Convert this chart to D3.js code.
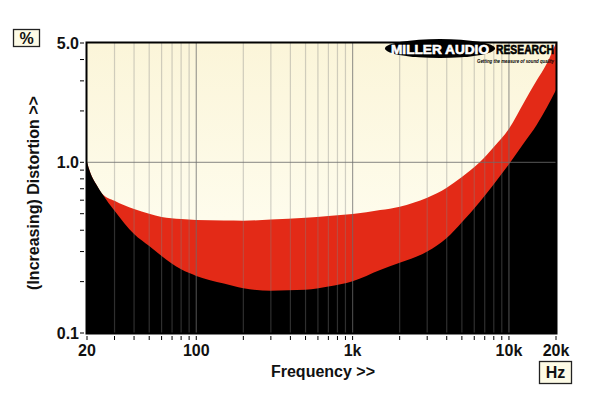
<!DOCTYPE html>
<html>
<head>
<meta charset="utf-8">
<script src="https://cdn.jsdelivr.net/npm/d3@7"></script>
<style>
  html, body { margin: 0; padding: 0; background: #fff; }
  svg { display: block; font-family: "Liberation Sans", Arial, sans-serif; }
</style>
</head>
<body>
<script>
// frequency grid (Hz) and the two boundaries (% distortion)
const freqs = [20, 21, 23, 25, 30, 40, 50, 60, 80, 100, 150, 200, 300, 500, 700,
  1000, 1500, 2000, 3000, 4000, 5000, 6500, 8000, 10000, 12500, 15000, 17500, 20000];
const upperDistortion = [1.0, 0.87, 0.74, 0.655, 0.595, 0.532, 0.50, 0.478, 0.465, 0.459, 0.456, 0.455, 0.462, 0.474, 0.485,
  0.498, 0.525, 0.55, 0.62, 0.71, 0.82, 1.0, 1.23, 1.57, 2.25, 3.0, 3.8, 5.0];
const lowerDistortion = [1.0, 0.87, 0.74, 0.655, 0.52, 0.38, 0.323, 0.283, 0.236, 0.216, 0.195, 0.183, 0.177, 0.179, 0.187,
  0.201, 0.234, 0.258, 0.30, 0.36, 0.445, 0.585, 0.745, 0.975, 1.3, 1.65, 2.1, 2.65];

const xTickValues = [20, 100, 1000, 10000, 20000];
const xTickLabels = ["20", "100", "1k", "10k", "20k"];
const yTickValues = [0.1, 1, 5];
const yTickLabels = ["0.1", "1.0", "5.0"];

const width = 600, height = 399;
const plot = { left: 87, right: 556, top: 43, bottom: 333 };

const xScale = d3.scaleLog([20, 20000], [plot.left, plot.right]);
const yScale = d3.scaleLog([0.1, 5], [plot.bottom, plot.top]);

const svg = d3.select("body").append("svg")
    .attr("width", width)
    .attr("height", height)
    .attr("viewBox", `0 0 ${width} ${height}`);

const defs = svg.append("defs");
const grad = defs.append("linearGradient")
    .attr("id", "bg")
    .attr("x1", 0).attr("y1", 0).attr("x2", 0).attr("y2", 1);
grad.append("stop").attr("offset", "0%").attr("stop-color", "#fbf5d9");
grad.append("stop").attr("offset", "60%").attr("stop-color", "#fefcec");
grad.append("stop").attr("offset", "100%").attr("stop-color", "#fffef3");

defs.append("clipPath").attr("id", "plotClip")
  .append("rect")
    .attr("x", plot.left).attr("y", plot.top)
    .attr("width", plot.right - plot.left).attr("height", plot.bottom - plot.top);

svg.append("rect")
    .attr("x", plot.left).attr("y", plot.top)
    .attr("width", plot.right - plot.left).attr("height", plot.bottom - plot.top)
    .attr("fill", "url(#bg)");

const I = d3.range(freqs.length);
const area = (values) => d3.area()
    .curve(d3.curveMonotoneX)
    .x(i => xScale(freqs[i]))
    .y0(plot.bottom + 2)
    .y1(i => yScale(values[i]));

const marks = svg.append("g").attr("clip-path", "url(#plotClip)");

marks.append("path")
    .attr("fill", "#e32a17")
    .attr("d", area(upperDistortion)(I));

marks.append("path")
    .attr("fill", "#000")
    .attr("d", area(lowerDistortion)(I));

// grid, drawn over the fills with transparency
const gridFreqs = xScale.ticks().filter(f => f > 20 && f < 20000);
const isDecade = f => Math.abs(Math.log10(f) % 1) < 1e-9;

marks.append("g")
    .selectAll("line")
    .data(gridFreqs)
    .join("line")
    .attr("x1", d => xScale(d)).attr("x2", d => xScale(d))
    .attr("y1", plot.top).attr("y2", plot.bottom)
    .attr("stroke", d => isDecade(d) ? "#6c6c6c" : "#818181")
    .attr("stroke-opacity", d => isDecade(d) ? 0.65 : 0.36)
    .attr("stroke-width", 1.2);

marks.append("line")
    .attr("x1", plot.left).attr("x2", plot.right)
    .attr("y1", yScale(1)).attr("y2", yScale(1))
    .attr("stroke", "#6c6c6c")
    .attr("stroke-opacity", 0.65)
    .attr("stroke-width", 1.2);

// frame
svg.append("rect")
    .attr("x", plot.left - 0.5).attr("y", plot.top - 0.5)
    .attr("width", plot.right - plot.left + 1).attr("height", plot.bottom - plot.top + 1)
    .attr("fill", "none")
    .attr("stroke", "#000")
    .attr("stroke-width", 2);

// logo
const logo = svg.append("g");
logo.append("ellipse")
    .attr("cx", 440).attr("cy", 48.5).attr("rx", 55).attr("ry", 9.5)
    .attr("fill", "#000");
logo.append("text")
    .attr("x", 440).attr("y", 53.5)
    .attr("text-anchor", "middle")
    .attr("fill", "#fff")
    .attr("stroke", "#fff")
    .attr("stroke-width", 0.6)
    .attr("font-weight", "bold")
    .attr("font-size", 13)
    .attr("textLength", 98)
    .attr("lengthAdjust", "spacingAndGlyphs")
    .text("MILLER AUDIO");
logo.append("text")
    .attr("x", 496).attr("y", 53.5)
    .attr("fill", "#000")
    .attr("stroke", "#000")
    .attr("stroke-width", 0.6)
    .attr("font-weight", "bold")
    .attr("font-size", 13)
    .attr("textLength", 58)
    .attr("lengthAdjust", "spacingAndGlyphs")
    .text("RESEARCH");
logo.append("text")
    .attr("x", 477).attr("y", 63)
    .attr("fill", "#000")
    .attr("font-weight", "bold")
    .attr("font-style", "italic")
    .attr("font-size", 5)
    .attr("textLength", 77)
    .attr("lengthAdjust", "spacingAndGlyphs")
    .text("Getting the measure of sound quality");

// y axis: minor ticks plus labelled majors
const yAxis = svg.append("g");
yAxis.selectAll("line")
    .data(yScale.ticks())
    .join("line")
    .attr("x1", plot.left - 7).attr("x2", plot.left - 3)
    .attr("y1", d => yScale(d)).attr("y2", d => yScale(d))
    .attr("stroke", "#000")
    .attr("stroke-width", 1);
yAxis.selectAll("text")
    .data(yTickValues)
    .join("text")
    .attr("x", plot.left - 8)
    .attr("y", d => yScale(d))
    .attr("dy", "0.36em")
    .attr("text-anchor", "end")
    .attr("font-weight", "bold")
    .attr("font-size", 16)
    .attr("fill", "#111")
    .text((d, i) => yTickLabels[i]);

// x axis ticks below the frame
const xAxis = svg.append("g");
xAxis.selectAll("line")
    .data(xScale.ticks())
    .join("line")
    .attr("x1", d => xScale(d)).attr("x2", d => xScale(d))
    .attr("y1", plot.bottom + 3).attr("y2", plot.bottom + 7)
    .attr("stroke", "#000")
    .attr("stroke-width", 1);
xAxis.selectAll("text")
    .data(xTickValues)
    .join("text")
    .attr("x", d => xScale(d))
    .attr("y", 356)
    .attr("text-anchor", "middle")
    .attr("font-weight", "bold")
    .attr("font-size", 16)
    .attr("fill", "#111")
    .text((d, i) => xTickLabels[i]);

svg.append("text")
    .attr("x", 323).attr("y", 377)
    .attr("text-anchor", "middle")
    .attr("font-weight", "bold")
    .attr("font-size", 16)
    .attr("fill", "#111")
    .text("Frequency >>");

svg.append("text")
    .attr("transform", "translate(39,193) rotate(-90)")
    .attr("text-anchor", "middle")
    .attr("font-weight", "bold")
    .attr("font-size", 16)
    .attr("fill", "#111")
    .text("(Increasing) Distortion >>");

// unit boxes
const unitBox = (x, y, w, h, label) => {
    const g = svg.append("g");
    g.append("rect")
        .attr("x", x).attr("y", y).attr("width", w).attr("height", h)
        .attr("fill", "#fdfbe6")
        .attr("stroke", "#222")
        .attr("stroke-width", 1.3);
    g.append("text")
        .attr("x", x + w / 2).attr("y", y + h / 2)
        .attr("dy", "0.36em")
        .attr("text-anchor", "middle")
        .attr("font-weight", "bold")
        .attr("font-size", 16)
        .attr("fill", "#111")
        .text(label);
};
unitBox(13.5, 29.5, 26, 17, "%");
unitBox(539.5, 361.5, 32, 22, "Hz");
</script>
</body>
</html>
